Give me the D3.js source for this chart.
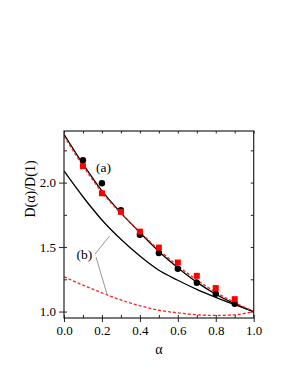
<!DOCTYPE html>
<html>
<head>
<meta charset="utf-8">
<script src="https://cdnjs.cloudflare.com/ajax/libs/d3/7.8.5/d3.min.js"></script>
<style>
  html, body { margin: 0; padding: 0; background: #fff; }
  svg { display: block; }
</style>
</head>
<body>
<svg id="chart" width="291" height="376"></svg>
<script>
// alpha grid for the measured points and the curves
const alphaPts = [0.1, 0.2, 0.3, 0.4, 0.5, 0.6, 0.7, 0.8, 0.9];
const circlesA = [2.173, 1.995, 1.785, 1.595, 1.454, 1.332, 1.223, 1.138, 1.060];
const squaresA = [2.127, 1.917, 1.773, 1.620, 1.496, 1.380, 1.277, 1.182, 1.096];

const alphaCurve = [0, 0.1, 0.2, 0.3, 0.4, 0.5, 0.6, 0.7, 0.8, 0.9, 1.0];
const solidA = [2.375, 2.145, 1.935, 1.765, 1.612, 1.466, 1.340, 1.228, 1.134, 1.060, 1.0];
const dashA = [2.360, 2.130, 1.925, 1.762, 1.618, 1.478, 1.355, 1.245, 1.150, 1.070, 1.0];
const solidB = [2.090, 1.890, 1.710, 1.560, 1.430, 1.320, 1.243, 1.172, 1.110, 1.053, 1.0];
const dashB = [1.270, 1.205, 1.145, 1.090, 1.045, 1.010, 0.990, 0.975, 0.970, 0.975, 1.0];

const xMajor = [0, 0.2, 0.4, 0.6, 0.8, 1.0];
const xMinor = [0.1, 0.3, 0.5, 0.7, 0.9];
const yMajor = [1.0, 1.5, 2.0];
const yMinor = [1.25, 1.75, 2.25];

const serif = '"Liberation Serif", serif';

const svg = d3.select('#chart');

const x = d3.scaleLinear().domain([0, 1]).range([64, 253.7]);
const y = d3.scaleLinear().domain([0.95, 2.4]).range([318, 131]);

const line = d3.line()
    .x(d => x(d[0]))
    .y(d => y(d[1]))
    .curve(d3.curveMonotoneX);

const plot = svg.append('g');

svg.append('clipPath').attr('id', 'clip')
    .append('rect')
    .attr('x', x(0)).attr('y', y(2.4))
    .attr('width', x(1) - x(0)).attr('height', y(0.95) - y(2.4));

const curves = plot.append('g').attr('clip-path', 'url(#clip)');

curves.append('path')
    .datum(d3.zip(alphaCurve, solidB))
    .attr('fill', 'none').attr('stroke', '#000').attr('stroke-width', 1.3)
    .attr('d', line);

curves.append('path')
    .datum(d3.zip(alphaCurve, dashB))
    .attr('fill', 'none').attr('stroke', '#ff2020').attr('stroke-width', 1.3)
    .attr('stroke-dasharray', '3,2')
    .attr('d', line);

curves.append('path')
    .datum(d3.zip(alphaCurve, solidA))
    .attr('fill', 'none').attr('stroke', '#000').attr('stroke-width', 1.3)
    .attr('d', line);

curves.append('path')
    .datum(d3.zip(alphaCurve, dashA))
    .attr('fill', 'none').attr('stroke', '#ff2020').attr('stroke-width', 1.3)
    .attr('stroke-dasharray', '3,2')
    .attr('d', line);

// data points
plot.append('g').selectAll('circle')
    .data(d3.zip(alphaPts, circlesA))
    .enter().append('circle')
    .attr('cx', d => x(d[0]))
    .attr('cy', d => y(d[1]))
    .attr('r', 3.2)
    .attr('fill', '#000');

plot.append('g').selectAll('rect')
    .data(d3.zip(alphaPts, squaresA))
    .enter().append('rect')
    .attr('x', d => x(d[0]) - 3)
    .attr('y', d => y(d[1]) - 3)
    .attr('width', 6)
    .attr('height', 6)
    .attr('fill', '#ff0000');

// leader lines for (b)
const lead = plot.append('g').attr('stroke', '#8a8a8a').attr('stroke-width', 0.9);
lead.append('line')
    .attr('x1', 95).attr('y1', 254)
    .attr('x2', x(0.24)).attr('y2', y(1.585));
lead.append('line')
    .attr('x1', 96).attr('y1', 257)
    .attr('x2', x(0.228)).attr('y2', y(1.128));

plot.append('text').attr('x', 96).attr('y', 172).text('(a)');
plot.append('text').attr('x', 76.5).attr('y', 259).text('(b)');

// axes
const axes = svg.append('g');

axes.append('g')
    .attr('transform', `translate(0,${y(0.95)})`)
    .call(d3.axisBottom(x).tickValues(xMajor).tickSize(4).tickPadding(4)
        .tickFormat(d3.format('.1f')))
    .call(g => g.selectAll('.tick line').attr('y1', -3))
    .call(g => g.select('.domain').remove());

axes.append('g')
    .attr('transform', `translate(0,${y(0.95)})`)
    .call(d3.axisBottom(x).tickValues(xMinor).tickSize(-3).tickFormat(''))
    .call(g => g.select('.domain').remove());

axes.append('g')
    .attr('transform', `translate(${x(0)},0)`)
    .call(d3.axisLeft(y).tickValues(yMajor).tickSize(5).tickPadding(3)
        .tickFormat(d3.format('.1f')))
    .call(g => g.selectAll('.tick line').attr('x1', 3))
    .call(g => g.select('.domain').remove());

axes.append('g')
    .attr('transform', `translate(${x(0)},0)`)
    .call(d3.axisLeft(y).tickValues(yMinor).tickSize(-3).tickFormat(''))
    .call(g => g.select('.domain').remove());

axes.append('g')
    .attr('transform', `translate(0,${y(2.4)})`)
    .call(d3.axisTop(x).tickValues(xMajor.concat(xMinor)).tickSize(-2.5).tickFormat(''))
    .call(g => g.select('.domain').remove());

axes.append('g')
    .attr('transform', `translate(${x(1)},0)`)
    .call(d3.axisRight(y).tickValues(yMajor.concat(yMinor)).tickSize(-3).tickFormat(''))
    .call(g => g.select('.domain').remove());

axes.selectAll('.tick line').attr('stroke', '#222').attr('stroke-width', 1);
axes.selectAll('.tick text').style('font-size', '13px');

axes.append('rect')
    .attr('x', x(0)).attr('y', y(2.4))
    .attr('width', x(1) - x(0)).attr('height', y(0.95) - y(2.4))
    .attr('fill', 'none').attr('stroke', '#222').attr('stroke-width', 1.2);

svg.append('text')
    .attr('x', (x(0) + x(1)) / 2)
    .attr('y', 354)
    .attr('text-anchor', 'middle')
    .style('font-size', '14px')
    .text('α');

svg.append('text')
    .attr('transform', 'translate(34.5,189)rotate(-90)')
    .attr('text-anchor', 'middle')
    .style('font-size', '14px')
    .text('D(α)/D(1)');

svg.selectAll('text')
    .style('font-family', serif)
    .style('fill', '#000');
plot.selectAll('text').style('font-size', '13.5px');
</script>
</body>
</html>
